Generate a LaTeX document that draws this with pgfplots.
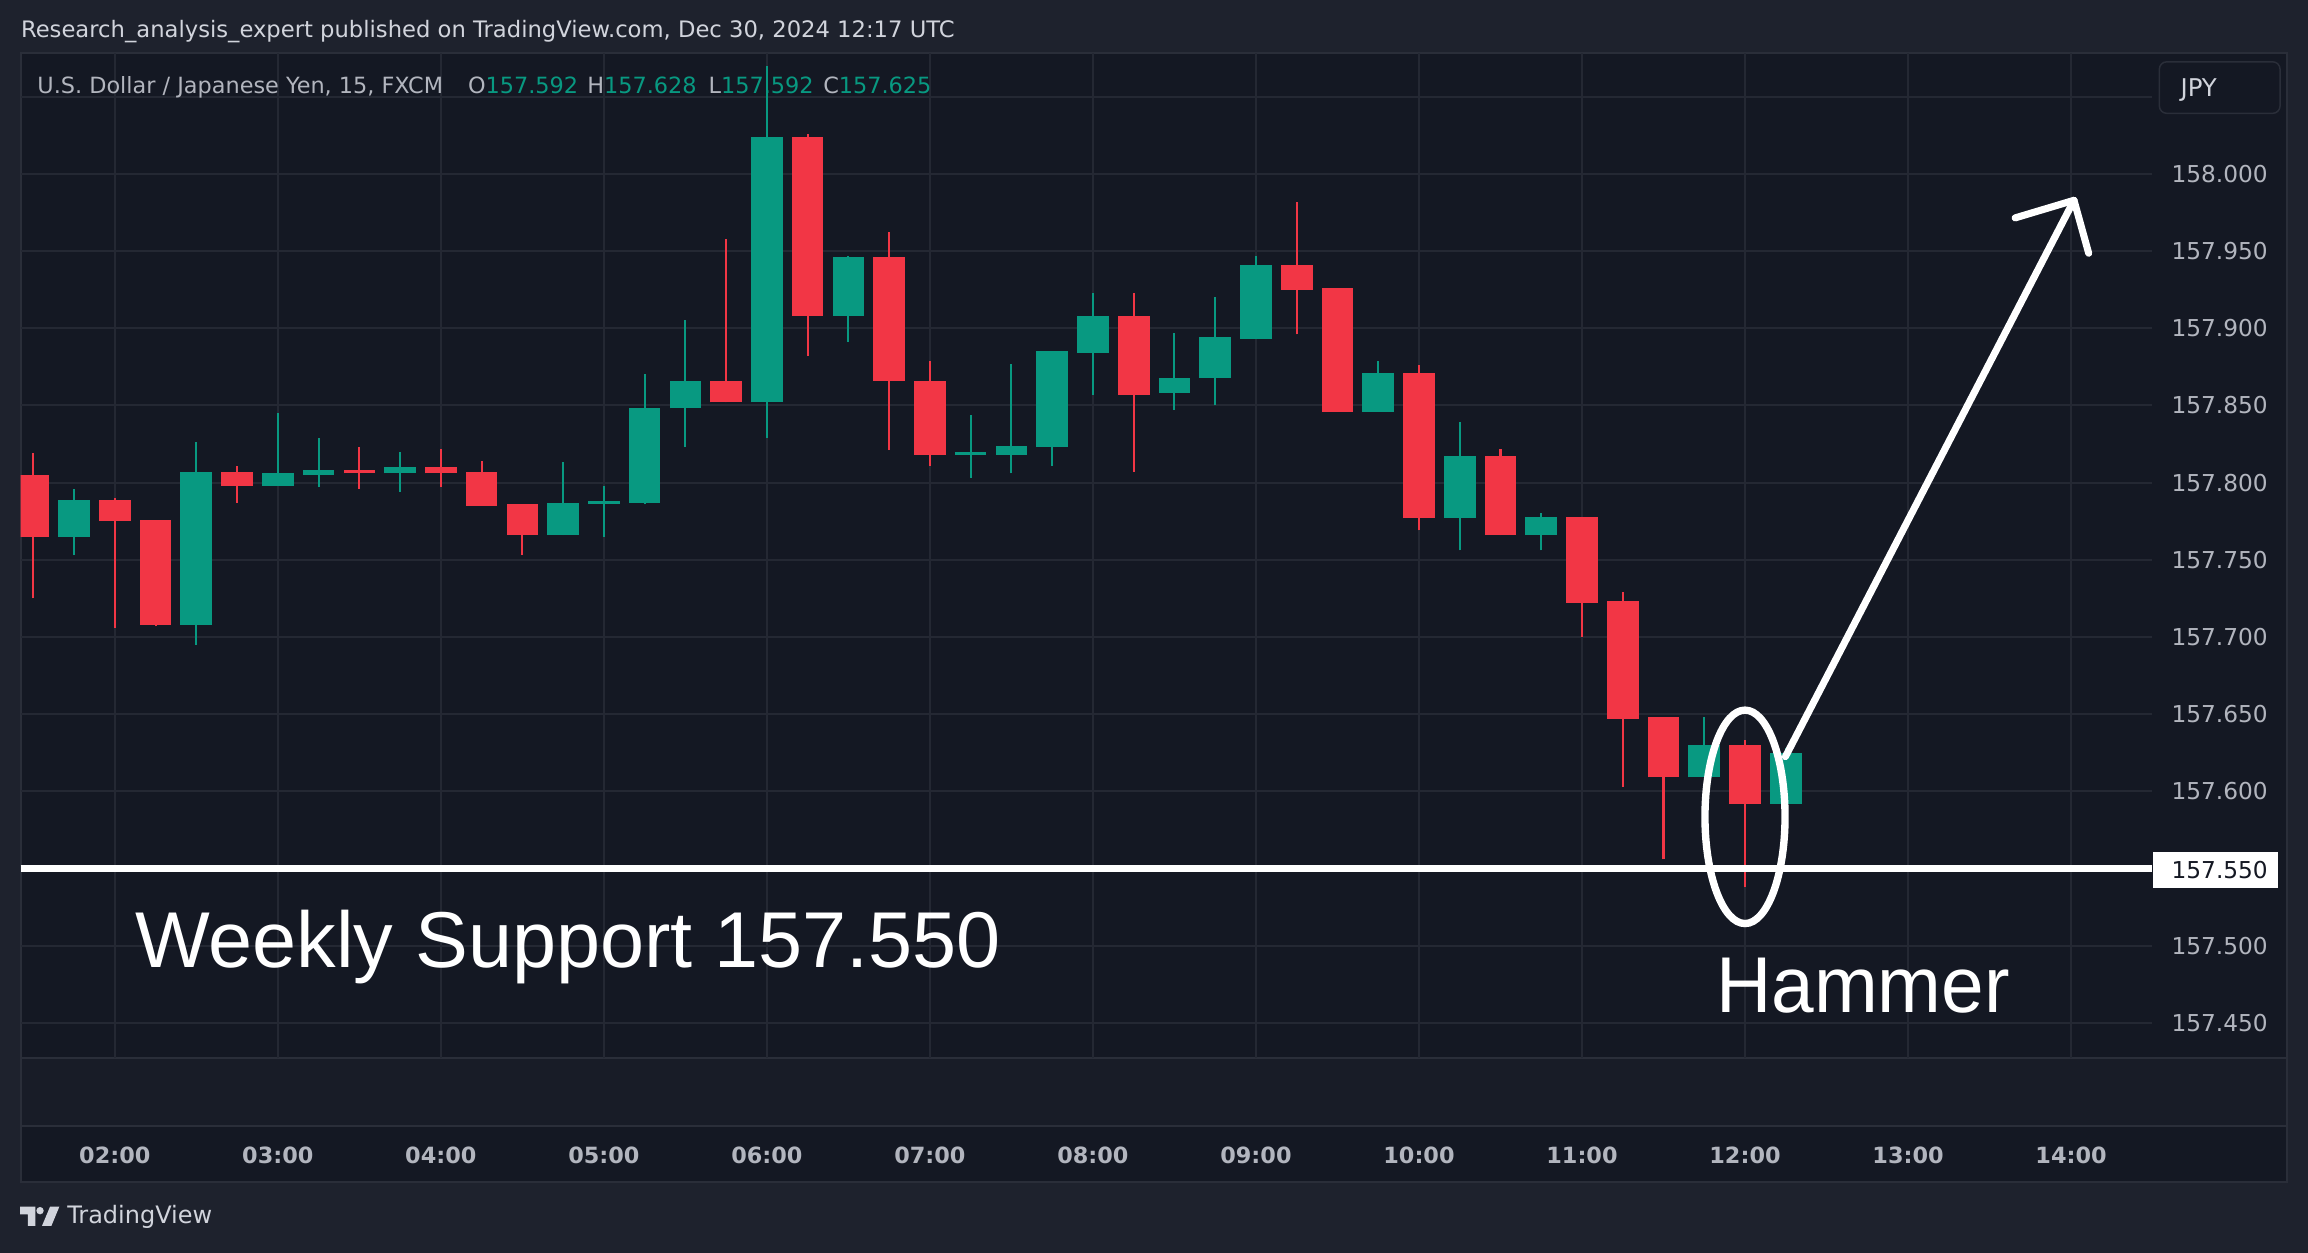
\documentclass[border=0pt]{standalone}
\usepackage{fontspec}
\setmainfont{DejaVu Sans}
\newfontfamily\uifont{DejaVu Sans}
\newfontfamily\bigfont{Liberation Sans}
\usepackage{pgfplots}
\usepackage{pgfplotstable}
\pgfplotsset{compat=1.18}

\definecolor{tvbg}{HTML}{1E222D}
\definecolor{tvpane}{HTML}{141823}
\definecolor{tvsub}{HTML}{181C27}
\definecolor{tvborder}{HTML}{2A2E39}
\definecolor{tvgrid}{HTML}{242833}
\definecolor{tvtext}{HTML}{D1D4DC}
\definecolor{tvtick}{HTML}{B2B5BE}
\definecolor{tvgreen}{HTML}{089981}
\definecolor{tvred}{HTML}{F23645}

\pgfplotstableread{
x o h l c
1 157.765 157.796 157.753 157.789
4 157.708 157.826 157.695 157.807
6 157.798 157.845 157.798 157.806
7 157.805 157.829 157.797 157.808
9 157.806 157.820 157.794 157.810
13 157.766 157.813 157.766 157.787
14 157.786 157.798 157.765 157.788
15 157.787 157.870 157.786 157.848
16 157.848 157.905 157.823 157.866
18 157.852 158.070 157.829 158.024
20 157.908 157.947 157.891 157.946
23 157.818 157.844 157.803 157.820
24 157.818 157.877 157.806 157.824
25 157.823 157.885 157.811 157.885
26 157.884 157.923 157.857 157.908
28 157.858 157.897 157.847 157.868
29 157.868 157.920 157.850 157.894
30 157.893 157.947 157.893 157.941
33 157.846 157.879 157.846 157.871
35 157.777 157.839 157.756 157.817
37 157.766 157.780 157.756 157.778
41 157.609 157.648 157.609 157.630
43 157.592 157.628 157.592 157.625
}\greendata

\pgfplotstableread{
x o h l c
0 157.805 157.819 157.725 157.765
2 157.789 157.790 157.706 157.775
3 157.776 157.776 157.707 157.708
5 157.807 157.811 157.787 157.798
8 157.808 157.823 157.796 157.806
10 157.810 157.822 157.797 157.806
11 157.807 157.814 157.785 157.785
12 157.786 157.786 157.753 157.766
17 157.866 157.958 157.852 157.852
19 158.024 158.026 157.882 157.908
21 157.946 157.962 157.821 157.866
22 157.866 157.879 157.811 157.818
27 157.908 157.923 157.807 157.857
31 157.941 157.982 157.896 157.925
32 157.926 157.926 157.846 157.846
34 157.871 157.876 157.769 157.777
36 157.817 157.822 157.766 157.766
38 157.778 157.778 157.700 157.722
39 157.723 157.729 157.603 157.647
40 157.648 157.648 157.556 157.609
42 157.630 157.633 157.538 157.592
}\reddata

\begin{document}
\begin{tikzpicture}
% ---------- backgrounds (pixel scope: 1 px = 0.5pt, y downward) ----------
\begin{scope}[x=0.5pt, y=-0.5pt, yshift=425.5pt]
  \fill[tvbg] (0,0) rectangle (1568,851);
  \fill[tvpane] (14,36) rectangle (1553.5,803);
  \fill[tvsub] (14,719) rectangle (1553.5,765);
  \draw[tvborder, line width=0.7pt] (14,36) rectangle (1553.5,803);
  \draw[tvborder, line width=0.7pt] (14,719) -- (1553.5,719);
  \draw[tvborder, line width=0.7pt] (14,765) -- (1553.5,765);
\end{scope}

\begin{axis}[
  at={(7pt,66pt)}, anchor=south west,
  scale only axis, width=724pt, height=341.5pt,
  xmin=-0.3115, xmax=51.986, ymin=157.4271, ymax=158.0782,
  axis line style={draw=none},
  major tick length=0pt,
  scaled x ticks=false, scaled y ticks=false,
  xtick={2,6,10,14,18,22,26,30,34,38,42,46,50},
  xticklabels={02:00,03:00,04:00,05:00,06:00,07:00,08:00,09:00,10:00,11:00,12:00,13:00,14:00},
  ytick={157.45,157.5,157.55,157.6,157.65,157.7,157.75,157.8,157.85,157.9,157.95,158},
  yticklabels={157.450,157.500,157.550,157.600,157.650,157.700,157.750,157.800,157.850,157.900,157.950,158.000},
  yticklabel pos=right,
  extra y ticks={158.05}, extra y tick labels={},
  extra y tick style={grid=major},
  grid=major,
  major grid style={tvgrid, line width=0.7pt},
  xticklabel style={font=\uifont\bfseries\fontsize{7.6}{9}\selectfont, text=tvtick, anchor=center, yshift=-33pt},
  yticklabel style={font=\uifont\fontsize{7.9}{9}\selectfont, text=tvtick, anchor=center, xshift=23pt},
  clip=true,
  candle/.style={only marks, mark=*, mark size=0pt, mark options={draw=none, fill=none}, forget plot},
]
% wicks
\addplot[tvgreen, candle,
  error bars/.cd, y dir=plus, y explicit, error mark=none,
  error bar style={line width=0.7pt, tvgreen}]
  table[x=x, y=l, y error plus expr={\thisrow{h}-\thisrow{l}}] {\greendata};
\addplot[tvred, candle,
  error bars/.cd, y dir=plus, y explicit, error mark=none,
  error bar style={line width=0.7pt, tvred}]
  table[x=x, y=l, y error plus expr={\thisrow{h}-\thisrow{l}}] {\reddata};
% bodies
\addplot[tvgreen, candle,
  error bars/.cd, y dir=plus, y explicit, error mark=none,
  error bar style={line width=10.75pt, tvgreen}]
  table[x=x, y=o, y error plus expr={max(\thisrow{c}-\thisrow{o},0.0015)}] {\greendata};
\addplot[tvred, candle,
  error bars/.cd, y dir=plus, y explicit, error mark=none,
  error bar style={line width=10.75pt, tvred}]
  table[x=x, y=c, y error plus expr={max(\thisrow{o}-\thisrow{c},0.0015)}] {\reddata};
% weekly support line
\addplot[white, line width=2.5pt, forget plot] coordinates {(-0.3115,157.55) (51.986,157.55)};
% hammer ellipse
\draw[white, line width=2.5pt] (axis cs:42,157.5835) ellipse [x radius=13.6pt, y radius=36.25pt];
% arrow
\draw[white, line width=2.4pt, line cap=round, line join=round]
  (axis cs:42.992,157.6225) -- (axis cs:50.072,157.9828);
\draw[white, line width=2.4pt, line cap=round, line join=round]
  (axis cs:48.628,157.9714) -- (axis cs:50.072,157.9828) -- (axis cs:50.433,157.9485);
% texts
\node[anchor=base west, inner sep=0pt, text=white, font=\bigfont\fontsize{26.9}{30}\selectfont]
  at (axis cs:2.487,157.4862) {Weekly Support 157.550};
\node[anchor=base west, inner sep=0pt, text=white, font=\bigfont\fontsize{26.9}{30}\selectfont]
  at (axis cs:41.277,157.4567) {\scalebox{0.967}[1]{Hammer}};
\end{axis}

% ---------- overlays ----------
\begin{scope}[x=0.5pt, y=-0.5pt, yshift=425.5pt]
  % header
  \node[anchor=base west, inner sep=0pt, text=tvtext, font=\uifont\fontsize{7.7}{9}\selectfont]
    at (13.9,25.4) {Research\_analysis\_expert published on TradingView.com, Dec 30, 2024 12:17 UTC};
  % legend
  \begin{scope}[every node/.style={anchor=base west, inner sep=0pt, text=tvtick, font=\uifont\fontsize{7.6}{9}\selectfont}]
    \node at (25,63.4) {U.S. Dollar / Japanese Yen, 15, FXCM};
    \node at (317.6,63.4) {O\textcolor{tvgreen}{157.592}};
    \node at (398.6,63.4) {H\textcolor{tvgreen}{157.628}};
    \node at (481,63.4) {L\textcolor{tvgreen}{157.592}};
    \node at (558.9,63.4) {C\textcolor{tvgreen}{157.625}};
  \end{scope}
  % JPY box
  \draw[tvborder, fill=tvpane, line width=0.5pt, rounded corners=2.5pt] (1467,42) rectangle (1549,77);
  \node[anchor=base west, inner sep=0pt, text=tvtext, font=\uifont\fontsize{8.3}{9}\selectfont] at (1481,65.7) {JPY};
  % current support price label
  \fill[white] (1463,579) rectangle (1547.5,603);
  \node[anchor=center, inner sep=0pt, text=tvpane, font=\uifont\fontsize{7.9}{9}\selectfont] at (1508,591) {157.550};
  % TradingView logo
  \fill[tvtext] (13.6,819.8) -- (24.0,819.8) -- (24.0,832.9) -- (19.0,832.9) -- (19.0,825.0) -- (13.6,825.0) -- cycle;
  \fill[tvtext] (27.2,822.5) circle [radius=2.5];
  \fill[tvtext] (34.0,819.8) -- (40.3,819.8) -- (34.9,832.9) -- (28.5,832.9) -- cycle;
  \node[anchor=west, inner sep=0pt, text=tvtext, font=\uifont\fontsize{8.15}{9}\selectfont] at (45.3,827) {TradingView};
\end{scope}
\pgfresetboundingbox
\path (0,0) rectangle (784pt,425.5pt);
\end{tikzpicture}
\end{document}
